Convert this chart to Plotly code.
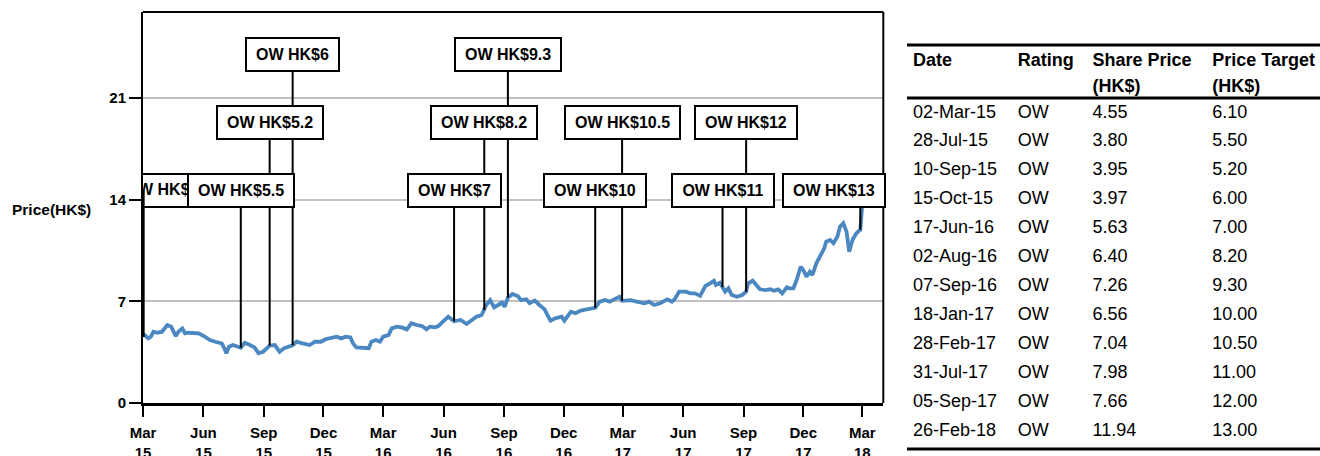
import plotly.graph_objects as go
from datetime import datetime, timedelta

# ---------------- data ----------------
price_dates = [
    "2015-03-02", "2015-03-09", "2015-03-13", "2015-03-17", "2015-03-23", "2015-03-30",
    "2015-04-07", "2015-04-13", "2015-04-20", "2015-04-24", "2015-04-30", "2015-05-04",
    "2015-05-08", "2015-05-25", "2015-06-03", "2015-06-11", "2015-06-19", "2015-06-29",
    "2015-07-03", "2015-07-06", "2015-07-10", "2015-07-16", "2015-07-28", "2015-08-03",
    "2015-08-11", "2015-08-18", "2015-08-24", "2015-08-31", "2015-09-10", "2015-09-18",
    "2015-09-25", "2015-10-02", "2015-10-15", "2015-10-21", "2015-10-30", "2015-11-10",
    "2015-11-18", "2015-11-27", "2015-12-04", "2015-12-11", "2015-12-21", "2015-12-28",
    "2016-01-04", "2016-01-11", "2016-01-15", "2016-01-20", "2016-02-01", "2016-02-08",
    "2016-02-12", "2016-02-19", "2016-02-25", "2016-03-01", "2016-03-09", "2016-03-14",
    "2016-03-22", "2016-03-29", "2016-04-06", "2016-04-13", "2016-04-21", "2016-04-29",
    "2016-05-06", "2016-05-11", "2016-05-19", "2016-05-24", "2016-05-31", "2016-06-08",
    "2016-06-17", "2016-06-27", "2016-07-06", "2016-07-14", "2016-07-21", "2016-07-29",
    "2016-08-02", "2016-08-05", "2016-08-11", "2016-08-17", "2016-08-23", "2016-08-29",
    "2016-09-02", "2016-09-07", "2016-09-14", "2016-09-22", "2016-09-27", "2016-10-05",
    "2016-10-10", "2016-10-18", "2016-10-25", "2016-11-02", "2016-11-07", "2016-11-11",
    "2016-11-18", "2016-11-28", "2016-12-02", "2016-12-12", "2016-12-19", "2016-12-27",
    "2017-01-05", "2017-01-13", "2017-01-18", "2017-01-25", "2017-02-02", "2017-02-09",
    "2017-02-17", "2017-02-24", "2017-02-28", "2017-03-13", "2017-03-22", "2017-04-03",
    "2017-04-10", "2017-04-18", "2017-04-27", "2017-05-08", "2017-05-15", "2017-05-19",
    "2017-05-26", "2017-06-05", "2017-06-12", "2017-06-19", "2017-06-27", "2017-07-05",
    "2017-07-12", "2017-07-18", "2017-07-21", "2017-07-27", "2017-07-31", "2017-08-04",
    "2017-08-09", "2017-08-14", "2017-08-22", "2017-08-30", "2017-09-05", "2017-09-08",
    "2017-09-15", "2017-09-21", "2017-09-26", "2017-10-04", "2017-10-12", "2017-10-17",
    "2017-10-24", "2017-10-30", "2017-11-06", "2017-11-10", "2017-11-16", "2017-11-21",
    "2017-11-27", "2017-12-01", "2017-12-06", "2017-12-11", "2017-12-15", "2017-12-21",
    "2017-12-27", "2018-01-02", "2018-01-05", "2018-01-11", "2018-01-16", "2018-01-22",
    "2018-01-26", "2018-01-31", "2018-02-05", "2018-02-08", "2018-02-09", "2018-02-14",
    "2018-02-20", "2018-02-26", "2018-03-01",
]
price_values = [
    4.75, 4.45, 4.57, 4.91, 4.84, 4.91,
    5.37, 5.26, 4.61, 4.91, 5.14, 4.80,
    4.84, 4.80, 4.57, 4.34, 4.22, 4.11,
    3.77, 3.42, 3.88, 3.99, 3.80, 4.15,
    3.99, 3.83, 3.42, 3.53, 3.95, 3.99,
    3.53, 3.77, 3.97, 4.22, 4.11, 3.99,
    4.22, 4.22, 4.39, 4.45, 4.57, 4.45,
    4.57, 4.52, 4.11, 3.83, 3.83, 3.77,
    4.22, 4.34, 4.22, 4.57, 4.68, 5.14,
    5.26, 5.21, 5.07, 5.49, 5.37, 5.30,
    5.07, 5.26, 5.21, 5.30, 5.60, 5.94,
    5.63, 5.72, 5.44, 5.67, 5.94, 6.06,
    6.40, 6.75, 7.09, 6.59, 6.75, 6.91,
    6.63, 7.26, 7.51, 7.37, 7.09, 7.14,
    6.87, 7.05, 6.75, 6.45, 5.99, 5.67,
    5.83, 5.94, 5.67, 6.29, 6.18, 6.36,
    6.45, 6.52, 6.56, 6.98, 7.09, 6.98,
    7.14, 7.32, 7.04, 7.09, 6.98, 6.87,
    6.98, 6.75, 6.87, 7.14, 6.98, 7.14,
    7.67, 7.67, 7.55, 7.55, 7.38, 8.06,
    8.24, 8.42, 8.13, 8.28, 7.98, 7.67,
    7.90, 7.44, 7.32, 7.44, 7.66, 8.24,
    8.42, 8.06, 7.83, 7.78, 7.83, 7.73,
    7.83, 7.55, 7.97, 7.90, 7.90, 8.47,
    9.39, 9.16, 8.70, 9.04, 8.82, 9.62,
    10.08, 10.65, 11.11, 11.23, 11.00, 11.45,
    12.14, 12.38, 11.80, 11.00, 10.42, 11.23,
    11.69, 11.94, 13.70,
]

tick_dates = ["2015-03-01", "2015-06-01", "2015-09-01", "2015-12-01",
              "2016-03-01", "2016-06-01", "2016-09-01", "2016-12-01",
              "2017-03-01", "2017-06-01", "2017-09-01", "2017-12-01",
              "2018-03-01"]
tick_labels = ["Mar<br>15", "Jun<br>15", "Sep<br>15", "Dec<br>15",
               "Mar<br>16", "Jun<br>16", "Sep<br>16", "Dec<br>16",
               "Mar<br>17", "Jun<br>17", "Sep<br>17", "Dec<br>17",
               "Mar<br>18"]
y_ticks = [0, 7, 14, 21]

rating_dates = ["02-Mar-15", "28-Jul-15", "10-Sep-15", "15-Oct-15", "17-Jun-16",
                "02-Aug-16", "07-Sep-16", "18-Jan-17", "28-Feb-17", "31-Jul-17",
                "05-Sep-17", "26-Feb-18"]
ratings = ["OW", "OW", "OW", "OW", "OW", "OW", "OW", "OW", "OW", "OW", "OW", "OW"]
share_prices = [4.55, 3.80, 3.95, 3.97, 5.63, 6.40, 7.26, 6.56, 7.04, 7.98, 7.66, 11.94]
price_targets = [6.10, 5.50, 5.20, 6.00, 7.00, 8.20, 9.30, 10.00, 10.50, 11.00, 12.00, 13.00]

# ---------------- layout constants ----------------
FONT = "Liberation Sans, Arial, Helvetica, sans-serif"
LINE_BLUE = "#4b87c1"
GRID = "#c0c0c0"
W, H = 1320, 456
M_L, M_T = 143, 12
PAPER_W = W - M_L
PAPER_H = H - M_T
X_DOM = [0.0, (883.3 - M_L) / PAPER_W]
Y_DOM = [(H - 403) / PAPER_H, 1.0]
Y_RANGE = [0, 26.93]
X_RANGE = ["2015-03-01", "2018-04-02"]

label_tier = [3, 3, 2, 1, 3, 2, 1, 3, 2, 3, 2, 3]
tier_level = {1: 24.0, 2: 19.32, 3: 14.63}
label_shift_px = {0: 25, 11: -26}
BOX_H = 35
BOX_PAD = 11
BOX_LW = 2
LABEL_SIZE = 16
BOLD_W = {"O": 0.778, "W": 0.944, " ": 0.278, "H": 0.722, "K": 0.722,
          "$": 0.556, ".": 0.278}


def text_width(s, size):
    return sum(BOLD_W.get(ch, 0.556) for ch in s) * size


plot_px = (X_DOM[1] - X_DOM[0]) * PAPER_W
range_days = (datetime.fromisoformat(X_RANGE[1]) - datetime.fromisoformat(X_RANGE[0])).days
px_per_day = plot_px / range_days

iso_rating_dates = [datetime.strptime(d, "%d-%b-%y").strftime("%Y-%m-%d") for d in rating_dates]
labels = [f"{r} HK${t:g}" for r, t in zip(ratings, price_targets)]

fig = go.Figure()

# price line
fig.add_trace(go.Scatter(x=price_dates, y=price_values, mode="lines",
                         line=dict(color=LINE_BLUE, width=3.8),
                         hoverinfo="skip", showlegend=False))

# connectors (under the boxes)
cx, cy = [], []
for d, p, tier in zip(iso_rating_dates, share_prices, label_tier):
    cx += [d, d, None]
    cy += [p, tier_level[tier], None]
fig.add_trace(go.Scatter(x=cx, y=cy, mode="lines", line=dict(color="black", width=2),
                         hoverinfo="skip", showlegend=False, connectgaps=False))

shapes = []
annotations = []
for i, (d, lab, tier) in enumerate(zip(iso_rating_dates, labels, label_tier)):
    w = text_width(lab, LABEL_SIZE) + 2 * BOX_PAD
    s = label_shift_px.get(i, 0)
    if i == 0:
        # this box runs past the left edge of the plot: draw it clipped
        shapes.append(dict(
            type="rect", xref="x", yref="y", xsizemode="pixel", ysizemode="pixel",
            xanchor=d, yanchor=tier_level[tier],
            x0=s - w / 2 + BOX_LW / 2, x1=s + w / 2 - BOX_LW / 2,
            y0=-BOX_H / 2 + BOX_LW / 2, y1=BOX_H / 2 - BOX_LW / 2,
            line=dict(color="black", width=BOX_LW), fillcolor="white", layer="between"))
        tx = datetime.fromisoformat(d) + timedelta(days=s / px_per_day)
        fig.add_trace(go.Scatter(
            x=[tx.strftime("%Y-%m-%d %H:%M")], y=[tier_level[tier]], mode="text",
            text=[lab], textposition="middle center", cliponaxis=True,
            textfont=dict(family=FONT, size=LABEL_SIZE, color="black", weight="bold"),
            hoverinfo="skip", showlegend=False))
    else:
        annotations.append(dict(
            x=d, y=tier_level[tier], xref="x", yref="y", text=f"<b>{lab}</b>",
            showarrow=False, xshift=s, bgcolor="white", bordercolor="black",
            borderwidth=BOX_LW, borderpad=0, width=w - 2 * BOX_LW, height=BOX_H - 2 * BOX_LW,
            align="center", valign="middle",
            font=dict(family=FONT, size=LABEL_SIZE, color="black")))

# frame top & right
shapes.append(dict(type="line", xref="paper", yref="paper", x0=X_DOM[0], x1=X_DOM[1],
                   y0=1, y1=1, line=dict(color="black", width=2), layer="above"))
shapes.append(dict(type="line", xref="paper", yref="paper", x0=X_DOM[1], x1=X_DOM[1],
                   y0=Y_DOM[0], y1=1, line=dict(color="black", width=2), layer="above"))

# ---------------- table ----------------
TBL_X0 = (905 - M_L) / PAPER_W
TBL_TOP = (H - 44) / PAPER_H
nb = "\u00a0"
header_vals = [["Date", ""], ["Rating", ""],
               [f"Share{nb}Price", "(HK$)"],
               [f"Price{nb}Target", "(HK$)"]]
fig.add_trace(go.Table(
    domain=dict(x=[TBL_X0, 1.0], y=[0.0, TBL_TOP]),
    columnwidth=[105, 75, 120, 115],
    header=dict(values=header_vals, align="left", height=26,
                fill_color="white", line=dict(color="rgba(0,0,0,0)", width=0),
                font=dict(family=FONT, size=18, color="black", weight="bold")),
    cells=dict(values=[rating_dates, ratings,
                       [f"{v:.2f}" for v in share_prices],
                       [f"{v:.2f}" for v in price_targets]],
               align="left", height=28.95, fill_color="white",
               line=dict(color="rgba(0,0,0,0)", width=0),
               font=dict(family=FONT, size=18, color="black")),
))

RULE_X0 = (907 - M_L) / PAPER_W
for ypx in (45, 98, 449):
    yp = (H - ypx) / PAPER_H
    shapes.append(dict(type="line", xref="paper", yref="paper", x0=RULE_X0, x1=1.0,
                       y0=yp, y1=yp, line=dict(color="black", width=3), layer="above"))

annotations.append(dict(text="<b>Price(HK$)</b>", xref="paper", yref="y",
                        x=(93 - M_L) / PAPER_W, y=13.36, xanchor="right", yanchor="middle",
                        showarrow=False, font=dict(family=FONT, size=15.5, color="black")))

fig.update_layout(
    width=W, height=H, template="none",
    margin=dict(l=M_L, r=0, t=M_T, b=0),
    paper_bgcolor="white", plot_bgcolor="white",
    font=dict(family=FONT, color="black"),
    showlegend=False,
    shapes=shapes,
    annotations=annotations,
    xaxis=dict(domain=X_DOM, type="date", range=X_RANGE, tickmode="array",
               tickvals=tick_dates, ticktext=tick_labels, ticks="outside", ticklen=11,
               tickwidth=2, tickcolor="black", showline=True, linewidth=3, linecolor="black",
               showgrid=False, zeroline=False, automargin=False, ticklabelstandoff=3,
               tickfont=dict(family=FONT, size=15, color="black", weight="bold")),
    yaxis=dict(domain=Y_DOM, range=Y_RANGE, tickmode="array", tickvals=y_ticks,
               ticks="outside", ticklen=12, tickwidth=2, tickcolor="black",
               showline=True, linewidth=2, linecolor="black",
               showgrid=True, gridcolor=GRID, gridwidth=2, zeroline=False, automargin=False,
               tickfont=dict(family=FONT, size=15, color="black", weight="bold")),
)

fig.write_html("out.html", config={"displayModeBar": False},
               post_script="document.body.style.margin='0px';")
